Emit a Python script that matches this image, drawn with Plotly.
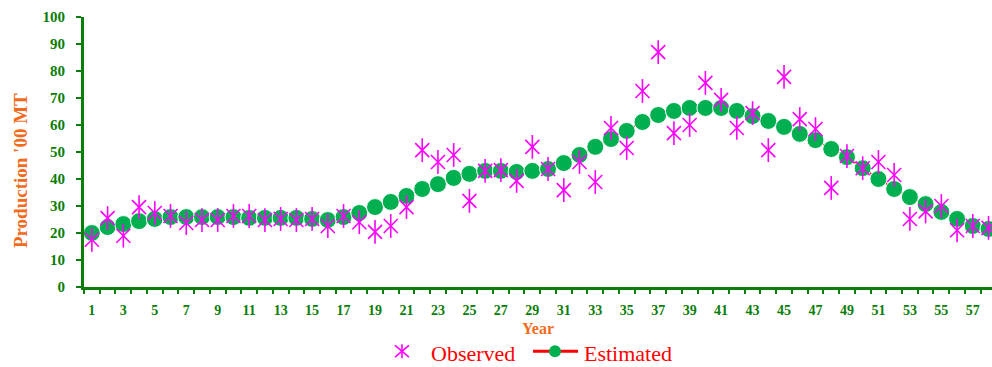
import plotly.graph_objects as go

years = list(range(1, 59))

observed = [17.5, 25.5, 19.0, 29.6, 27.4, 26.3, 23.7, 24.8, 24.8, 26.3,
            26.3, 24.8, 25.2, 24.8, 25.2, 22.6, 26.3, 24.0, 20.4, 22.6,
            29.6, 50.7, 46.3, 48.9, 31.9, 43.0, 43.3, 39.3, 51.9, 43.7,
            35.9, 46.3, 38.9, 58.9, 51.5, 72.6, 87.0, 57.0, 60.0, 75.6,
            69.3, 58.9, 64.4, 50.7, 77.8, 62.2, 58.5, 36.7, 48.5, 44.0,
            46.3, 41.5, 25.2, 28.0, 30.0, 21.0, 22.6, 21.9]

estimated = [20.0, 22.2, 23.3, 24.4, 25.2, 25.9, 25.9, 25.9, 25.9, 25.9,
             25.6, 25.6, 25.6, 25.6, 25.2, 24.8, 25.9, 27.4, 29.6, 31.5,
             33.7, 36.3, 38.1, 40.4, 41.9, 43.0, 43.0, 42.6, 43.0, 43.7,
             45.9, 48.9, 51.9, 54.8, 57.8, 61.1, 63.7, 65.2, 66.3, 66.3,
             66.3, 65.2, 63.3, 61.5, 59.3, 56.7, 54.4, 51.1, 48.1, 44.0,
             40.0, 36.3, 33.3, 30.7, 27.8, 25.2, 22.6, 21.5]

x_labels = list(range(1, 58, 2))
y_ticks = list(range(0, 101, 10))

GREEN_AXIS = "#0A7D0A"
ORANGE = "#F26B1D"
MAGENTA = "#FF00FF"
DOT_GREEN = "#00B050"

fig = go.Figure()

fig.add_trace(go.Scatter(
    x=years, y=estimated, name="Estimated", mode="lines+markers",
    line=dict(color="red", width=1.5),
    marker=dict(symbol="circle", size=17, color=DOT_GREEN,
                line=dict(color="white", width=1)),
))

# observed values drawn as an X with a vertical stroke
fig.add_trace(go.Scatter(
    x=years, y=observed, name="Observed", mode="markers",
    marker=dict(symbol="x-thin-open", size=14, color=MAGENTA,
                line=dict(color=MAGENTA, width=1.6)),
))
fig.add_trace(go.Scatter(
    x=years, y=observed, name="Observed", mode="markers",
    marker=dict(symbol="line-ns-open", size=17, color=MAGENTA,
                line=dict(color=MAGENTA, width=1.6)),
))

# hand-built legend below the x axis title (paper coordinates)
leg_y = -0.238
ox, hw, hh = 0.3502, 0.0077, 0.0259
legend_shapes = [
    dict(type="line", x0=ox, x1=ox, y0=leg_y - hh, y1=leg_y + hh,
         line=dict(color=MAGENTA, width=1.6)),
    dict(type="line", x0=ox - hw, x1=ox + hw, y0=leg_y - hh * 0.85,
         y1=leg_y + hh * 0.85, line=dict(color=MAGENTA, width=1.6)),
    dict(type="line", x0=ox - hw, x1=ox + hw, y0=leg_y + hh * 0.85,
         y1=leg_y - hh * 0.85, line=dict(color=MAGENTA, width=1.6)),
    dict(type="line", x0=0.4945, x1=0.5441, y0=leg_y, y1=leg_y,
         line=dict(color="red", width=3)),
    dict(type="circle", x0=0.5121, x1=0.5253, y0=leg_y - 0.0222,
         y1=leg_y + 0.0222, fillcolor=DOT_GREEN, line=dict(width=0)),
]
for s in legend_shapes:
    s.update(xref="paper", yref="paper", layer="above")

legend_font = dict(family="Liberation Serif", size=22, color="red")
annotations = [
    dict(text="Observed", x=0.381, y=-0.2963, xanchor="left",
         yanchor="bottom", font=legend_font),
    dict(text="Estimated", x=0.5496, y=-0.2963, xanchor="left",
         yanchor="bottom", font=legend_font),
    dict(text="<b>Production '00 MT</b>", textangle=-90,
         x=-0.0705, y=0.433, xanchor="center", yanchor="middle",
         font=dict(family="Liberation Serif", size=19, color=ORANGE)),
]
for a in annotations:
    a.update(xref="paper", yref="paper", showarrow=False, borderpad=0)

fig.update_layout(
    width=992, height=367,
    margin=dict(l=84, r=0, t=17, b=80, autoexpand=False),
    paper_bgcolor="white", plot_bgcolor="white",
    font=dict(family="Liberation Serif"),
    showlegend=False,
    shapes=legend_shapes,
    annotations=annotations,
)

fig.update_xaxes(
    range=[0.5, 58.22], showgrid=False, zeroline=False,
    showline=True, linecolor=GREEN_AXIS, linewidth=3,
    tickmode="array", tickvals=x_labels, ticktext=[str(v) for v in x_labels],
    ticks="outside", ticklen=8, tickcolor="rgba(0,0,0,0)",
    tickfont=dict(family="Liberation Serif", size=14, color=GREEN_AXIS,
                  weight="bold"),
    minor=dict(tick0=0.5, dtick=1, ticks="outside", ticklen=4,
               tickcolor=GREEN_AXIS, tickwidth=2),
    title=dict(text="<b>Year</b>", standoff=7,
               font=dict(family="Liberation Serif", size=16, color=ORANGE)),
)

fig.update_yaxes(
    range=[0, 100], showgrid=False, zeroline=False,
    showline=True, linecolor=GREEN_AXIS, linewidth=3,
    tickmode="array", tickvals=y_ticks,
    ticks="outside", ticklen=5, tickcolor=GREEN_AXIS, tickwidth=2,
    ticklabelstandoff=8,
    tickfont=dict(family="Liberation Serif", size=15, color=GREEN_AXIS,
                  weight="bold"),
)

fig.write_html("out.html")
